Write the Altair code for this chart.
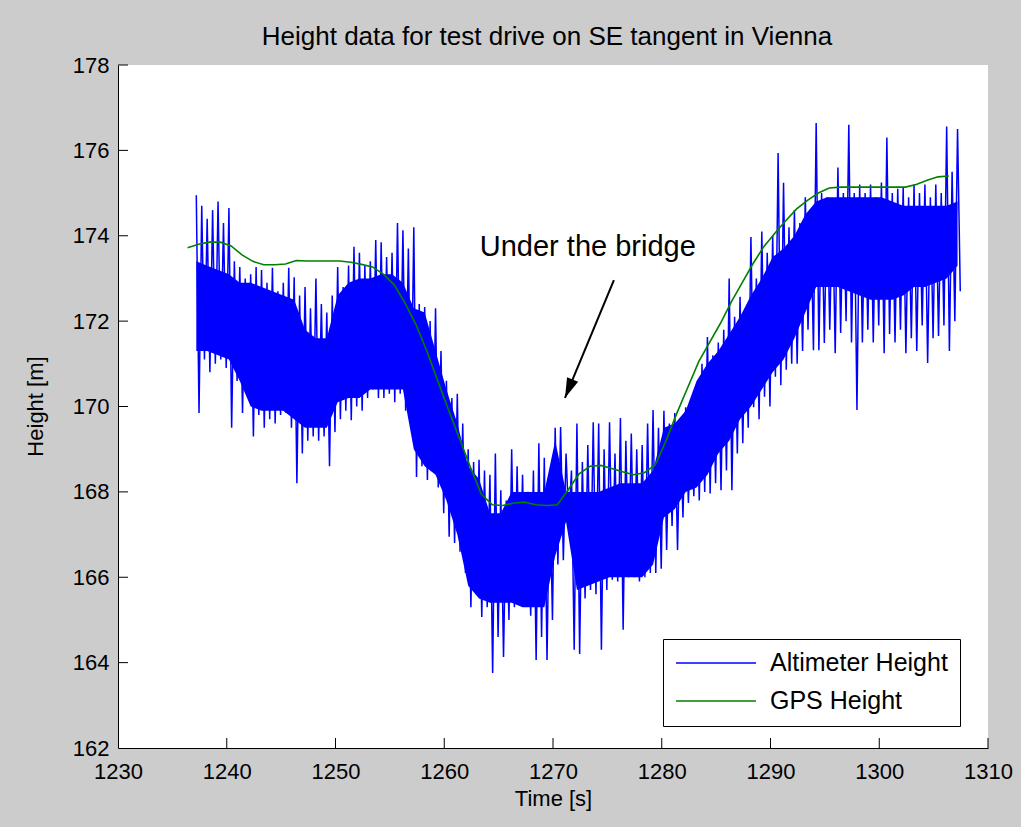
import altair as alt
import pandas as pd

# ---------------- data ----------------
TITLE = "Height data for test drive on SE tangent in Vienna"
SERIES = ["Altimeter Height", "GPS Height"]
COLORS = ["#0000ff", "#008000"]

# GPS height, one sample per second starting at t = 1236.4 s
gps_t0 = 1236.4
gps_height = [
    173.72, 173.80, 173.85, 173.85, 173.76, 173.55, 173.40, 173.32, 173.32, 173.34,
    173.42, 173.41, 173.41, 173.41, 173.41, 173.38, 173.33, 173.27, 173.10, 172.85,
    172.42, 171.92, 171.30, 170.60, 169.92, 169.25, 168.58, 167.95, 167.70, 167.68,
    167.74, 167.76, 167.70, 167.68, 167.70, 168.05, 168.42, 168.60, 168.62, 168.55,
    168.47, 168.40, 168.45, 168.63, 169.20, 169.85, 170.45, 171.05, 171.50, 171.95,
    172.45, 172.90, 173.35, 173.75, 174.06, 174.35, 174.63, 174.83, 175.00, 175.12,
    175.14, 175.14, 175.14, 175.14, 175.14, 175.14, 175.14, 175.20, 175.30, 175.38,
    175.40,
]

# Altimeter height: upper / lower spike per half second starting at t = 1237.2 s
alt_t0 = 1237.2
alt_hi = [
    174.95, 174.70, 174.40, 174.60, 174.80, 174.30, 174.65, 173.40, 173.27, 173.00,
    173.10, 173.27, 173.20, 172.90, 173.25, 172.70, 172.90, 173.25, 173.03, 172.60,
    172.80, 172.30, 173.00, 172.40, 172.20, 172.60, 173.27, 172.80, 173.30, 173.74,
    173.60, 173.30, 173.40, 173.90, 173.85, 173.50, 173.60, 174.30, 174.13, 173.70,
    174.20, 172.40, 172.33, 172.00, 172.30, 171.30, 170.60, 170.20, 170.30, 169.60,
    169.00, 168.70, 168.75, 168.50, 168.40, 168.90, 168.04, 167.80, 169.00, 168.60,
    168.40, 168.00, 168.50, 169.14, 168.80, 168.40, 169.50, 169.52, 168.90, 168.50,
    169.60, 168.70, 169.10, 169.63, 169.60, 169.00, 169.63, 168.90, 169.73, 169.20,
    169.37, 169.00, 169.10, 169.60, 169.92, 169.50, 169.90, 169.60, 169.85, 169.70,
    169.98, 169.90, 170.50, 171.00, 171.63, 171.20, 171.50, 171.80, 173.00, 172.10,
    172.57, 172.30, 173.97, 173.00, 174.10, 173.60, 174.00, 175.94, 175.24, 174.20,
    174.60, 174.30, 174.90, 174.50, 176.64, 175.00, 174.90, 174.80, 175.60, 175.00,
    176.60, 175.00, 175.20, 175.00, 175.20, 174.90, 175.25, 176.30, 175.00, 175.10,
    175.14, 174.90, 175.20, 175.00, 175.20, 174.90, 175.20, 175.00, 176.56, 175.50,
    176.50,
]
alt_lo = [
    169.85, 171.10, 170.80, 171.00, 171.10, 170.90, 169.50, 170.60, 169.85, 170.20,
    169.30, 169.80, 169.50, 169.70, 169.60, 169.80, 169.85, 169.50, 168.20, 168.90,
    169.20, 169.30, 169.20, 169.30, 168.60, 169.40, 169.70, 169.90, 169.68, 170.00,
    169.90, 170.20, 170.40, 170.20, 170.20, 170.30, 170.10, 170.30, 169.90, 169.60,
    168.35, 168.60, 168.28, 168.50, 168.10, 167.50, 166.95, 166.80, 166.60, 166.10,
    165.30, 165.60, 165.07, 165.30, 163.76, 164.60, 164.13, 165.00, 165.30, 165.40,
    165.40, 165.10, 164.06, 164.60, 164.06, 165.00, 166.30, 166.40, 167.30, 164.30,
    164.20, 165.50, 165.70, 165.60, 164.30, 165.70, 165.94, 165.90, 164.77, 166.00,
    166.00, 165.90, 166.00, 166.10, 166.10, 166.20, 166.64, 167.20, 166.64, 167.40,
    167.74, 167.90, 167.80, 168.00, 167.96, 168.20, 168.04, 168.50, 168.04, 168.90,
    169.14, 169.50, 169.98, 169.70, 170.23, 170.00, 170.70, 170.50, 170.86, 171.00,
    171.00, 171.30, 171.80, 171.32, 171.32, 171.49, 171.80, 171.25, 171.72, 172.00,
    171.50, 169.92, 171.50, 171.80, 171.50, 171.90, 171.25, 171.70, 171.50, 171.80,
    171.25, 171.60, 171.30, 171.90, 171.02, 171.60, 171.65, 171.90, 171.30, 172.00,
    172.70,
]

# dense core of the altimeter trace, one value per second starting at t = 1237.2 s
core_hi = [
    173.4, 173.3, 173.2, 173.1, 172.9, 172.9, 172.8, 172.7, 172.6, 172.5,
    171.8, 171.6, 171.6, 172.6, 172.9, 173.0, 173.0, 173.1, 173.1, 172.9,
    172.3, 172.2, 171.3, 170.4, 169.6, 168.6, 168.3, 167.5, 167.5, 168.0,
    168.0, 168.0, 168.0, 169.2, 168.0, 168.0, 168.0, 168.0, 168.1, 168.2,
    168.2, 168.2, 168.5, 169.5, 169.6, 169.9, 170.6, 171.0, 171.3, 171.7,
    172.1, 172.6, 173.0, 173.5, 173.7, 174.0, 174.5, 174.8, 174.9, 174.9,
    174.9, 174.9, 174.9, 174.9, 174.8, 174.7, 174.7, 174.7, 174.7, 174.7,
    174.8,
]
core_lo = [
    171.3, 171.3, 171.2, 171.1, 170.6, 170.0, 169.9, 169.9, 169.9, 169.7,
    169.5, 169.5, 169.5, 170.1, 170.2, 170.2, 170.4, 170.4, 170.4, 170.4,
    169.0, 168.6, 168.4, 167.8, 167.0, 165.8, 165.5, 165.4, 165.4, 165.4,
    165.3, 165.3, 165.3, 166.5, 167.3, 165.7, 165.8, 165.9, 166.0, 166.0,
    166.0, 166.0, 166.3, 167.4, 167.6, 168.0, 168.1, 168.4, 168.9, 169.2,
    169.7, 170.0, 170.4, 170.8, 171.1, 171.6, 172.2, 172.8, 172.8, 172.8,
    172.7, 172.6, 172.5, 172.5, 172.5, 172.6, 172.8, 172.8, 172.9, 173.0,
    173.3,
]

x_ticks = [1230, 1240, 1250, 1260, 1270, 1280, 1290, 1300, 1310]
y_ticks = [162, 164, 166, 168, 170, 172, 174, 176, 178]

# annotation
note_text = ["Under the bridge"]
note_t = [1273.2]
note_h = [173.74]
arrow_from_t = [1275.6]
arrow_from_h = [172.96]
arrow_to_t = [1271.1]
arrow_to_h = [170.2]

# ---------------- tables ----------------
blue_rows = []
for k, (hi, lo) in enumerate(zip(alt_hi, alt_lo)):
    t = alt_t0 + 0.5 * k
    blue_rows.append({"t": t, "h": hi, "series": SERIES[0], "o": 2 * k})
    blue_rows.append({"t": t + 0.25, "h": lo, "series": SERIES[0], "o": 2 * k + 1})
blue_df = pd.DataFrame(blue_rows)

gps_df = pd.DataFrame({
    "t": [gps_t0 + k for k in range(len(gps_height))],
    "h": gps_height,
    "series": SERIES[1],
    "o": list(range(len(gps_height))),
})

core_df = pd.DataFrame({
    "t": [alt_t0 + k for k in range(len(core_hi))],
    "h": core_lo,
    "h2": core_hi,
})

xt_df = pd.DataFrame({"t": x_ticks[1:]})
yt_df = pd.DataFrame({"h": y_ticks[1:]})
note_df = pd.DataFrame({"t": note_t, "h": note_h, "label": note_text})
arrow_df = pd.DataFrame({"t": arrow_from_t, "h": arrow_from_h,
                         "t2": arrow_to_t, "h2": arrow_to_h})
head_df = pd.DataFrame({"t": arrow_to_t, "h": arrow_to_h})

# ---------------- encodings ----------------
FONT = "Liberation Sans"
W, H = 870, 683

xscale = alt.Scale(domain=[1230, 1310], nice=False, zero=False)
yscale = alt.Scale(domain=[162, 178], nice=False, zero=False)

xaxis = alt.Axis(values=x_ticks, ticks=False, grid=False, domainColor="black",
                 labelFlush=False, labelFontSize=22, labelFont=FONT, labelColor="black",
                 labelPadding=13, title="Time [s]", titleFont=FONT, titleFontSize=22,
                 titleFontWeight="normal", titleColor="black", titleX=435, titleY=50,
                 titleBaseline="middle", format="d")
yaxis = alt.Axis(values=y_ticks, ticks=False, grid=False, domainColor="black",
                 labelFlush=False, labelFontSize=22, labelFont=FONT, labelColor="black",
                 labelPadding=9, title="Height [m]", titleFont=FONT, titleFontSize=22,
                 titleFontWeight="normal", titleColor="black", titleX=-83, titleY=341,
                 titleBaseline="middle", titleAngle=270, format="d")

X = alt.X("t:Q", scale=xscale, axis=xaxis)
Y = alt.Y("h:Q", scale=yscale, axis=yaxis)

color = alt.Color(
    "series:N",
    scale=alt.Scale(domain=SERIES, range=COLORS),
    legend=alt.Legend(title=None, orient="none", legendX=545, legendY=574,
                      symbolType="stroke", symbolSize=6400, symbolStrokeWidth=1.5,
                      clipHeight=24, labelLimit=400,
                      labelFontSize=25, labelFont=FONT, labelColor="black",
                      fillColor="white", strokeColor="black", padding=12,
                      rowPadding=13, labelOffset=13),
)

core = alt.Chart(core_df).mark_area(color="#0000ff", opacity=1, clip=True).encode(
    x=X, y=Y, y2="h2:Q")

blue = alt.Chart(blue_df).mark_line(strokeWidth=1.5, clip=True).encode(
    x=X, y=Y, color=color, order="o:Q")

green = alt.Chart(gps_df).mark_line(strokeWidth=1.6, clip=True).encode(
    x=X, y=Y, color=color, order="o:Q")

xticks_layer = alt.Chart(xt_df).mark_rule(color="black", strokeWidth=1).encode(
    x=X, y=alt.value(H), y2=alt.value(H - 10))
yticks_layer = alt.Chart(yt_df).mark_rule(color="black", strokeWidth=1).encode(
    y=Y, x=alt.value(0), x2=alt.value(10))

note = alt.Chart(note_df).mark_text(font=FONT, fontSize=29, color="black",
                                    align="center", baseline="middle").encode(
    x=X, y=Y, text="label:N")

arrow = alt.Chart(arrow_df).mark_rule(color="black", strokeWidth=2).encode(
    x=X, y=Y, x2="t2:Q", y2="h2:Q")

head = alt.Chart(head_df).mark_point(
    shape="M0,0L0.6,2L-0.6,2Z", size=400, angle=202.5, filled=True,
    color="black", opacity=1, strokeWidth=0).encode(x=X, y=Y)

chart = alt.layer(core, blue, green, xticks_layer, yticks_layer, arrow, head, note).properties(
    width=W, height=H,
    padding={"left": 118, "top": 65, "right": 33, "bottom": 79},
    autosize=alt.AutoSizeParams(type="none"),
    title=alt.TitleParams(TITLE, font=FONT, fontSize=26, fontWeight="normal",
                          color="black", anchor="middle", offset=4, dx=-6),
    background="#cccccc",
).configure_view(fill="white", strokeWidth=0)

chart.save("out.html", embed_options={"renderer": "svg", "actions": False})
